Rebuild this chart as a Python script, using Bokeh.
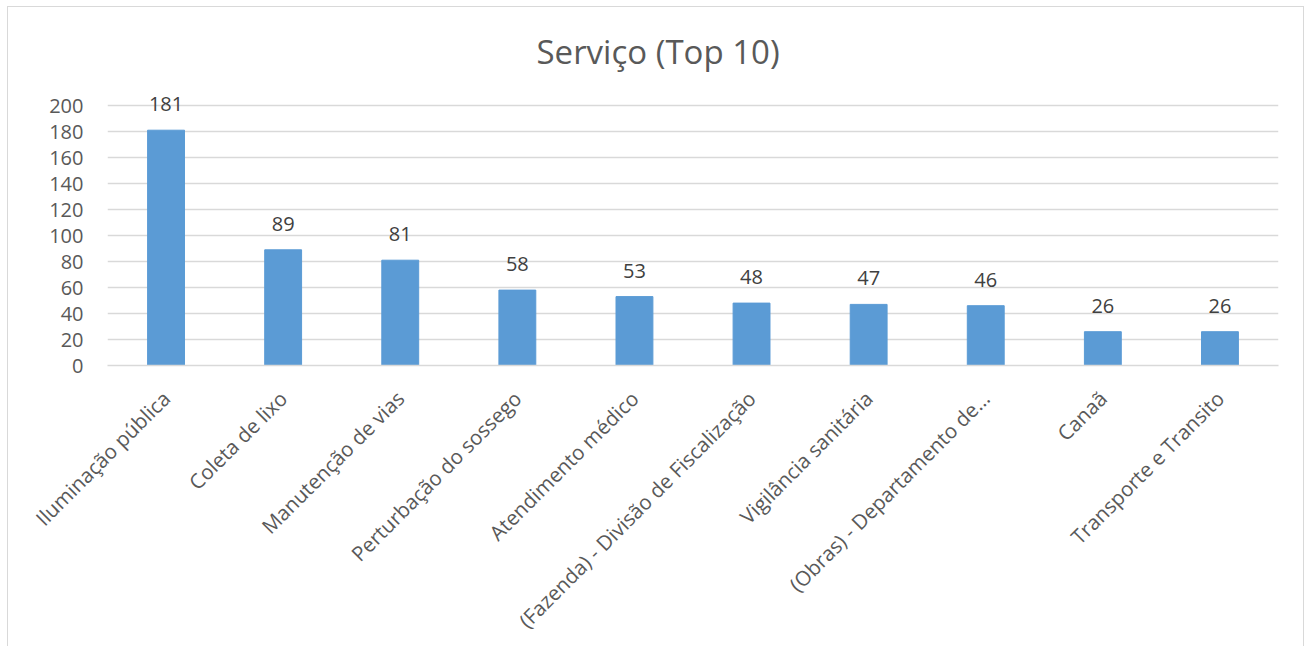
from bokeh.plotting import figure
from bokeh.models import FactorRange, Range1d, ColumnDataSource, LabelSet, FixedTicker
from bokeh.core.properties import value
from bokeh.embed import file_html
from bokeh.resources import INLINE
import math

categories = ["Iluminação pública", "Coleta de lixo", "Manutenção de vias",
              "Perturbação do sossego", "Atendimento médico",
              "(Fazenda) - Divisão de Fiscalização", "Vigilância sanitária",
              "(Obras) - Departamento de...", "Canaã", "Transporte e Transito"]
values = [181, 89, 81, 58, 53, 48, 47, 46, 26, 26]
y_ticks = [0, 20, 40, 60, 80, 100, 120, 140, 160, 180, 200]

FONT = "Open Sans"
TXT = "#595959"
GRID = "#D9D9D9"
BAR = "#5B9BD5"

src = ColumnDataSource(dict(cat=categories, val=values, lbl=[str(v) for v in values]))

p = figure(x_range=FactorRange(factors=categories), y_range=Range1d(0, 220),
           width=1297, height=640, output_backend="svg", toolbar_location=None,
           title="Serviço (Top 10)",
           min_border_left=99, min_border_right=27, min_border_top=72, min_border_bottom=282)
p.styles = {"margin-left": "7px", "margin-top": "6px",
            "border-left": f"1px solid {GRID}", "border-top": f"1px solid {GRID}",
            "border-right": f"1px solid {GRID}"}

p.vbar(x="cat", top="val", width=0.315, source=src, fill_color=BAR, line_color=BAR)

labels = LabelSet(x="cat", y="val", text="lbl", source=src, y_offset=19,
                  text_align="center", text_baseline="bottom",
                  text_font=value(FONT), text_font_size=value("20px"), text_color="#404040")
p.add_layout(labels)

p.title.align = "left"
p.title.offset = 429
p.title.text_font = FONT
p.title.text_font_size = "33px"
p.title.text_font_style = "normal"
p.title.text_color = TXT
p.title.standoff = 11

p.outline_line_color = None
p.xgrid.grid_line_color = None
p.ygrid.grid_line_color = GRID
p.ygrid.grid_line_width = 1.5
p.yaxis.ticker = FixedTicker(ticks=y_ticks)
p.yaxis.axis_line_color = None
p.yaxis.major_tick_line_color = None
p.yaxis.minor_tick_line_color = None
p.yaxis.major_label_text_font = FONT
p.yaxis.major_label_text_font_size = "20px"
p.yaxis.major_label_text_color = TXT
p.yaxis.major_label_standoff = 18

p.xaxis.axis_line_color = GRID
p.xaxis.axis_line_width = 1.5
p.xaxis.major_tick_line_color = None
p.xaxis.minor_tick_line_color = None
p.xaxis.major_label_orientation = math.pi / 4
p.xaxis.major_label_text_font = FONT
p.xaxis.major_label_text_font_size = "20.5px"
p.xaxis.major_label_text_color = TXT
p.xaxis.major_label_standoff = 23

open("out.html", "w").write(file_html(p, INLINE))
